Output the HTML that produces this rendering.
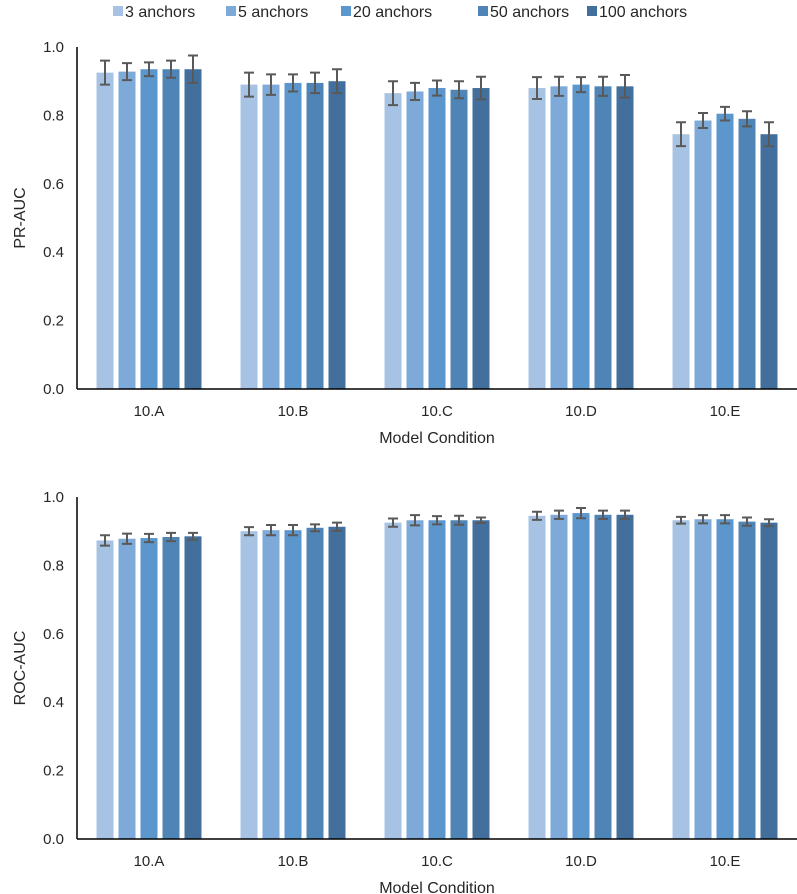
<!DOCTYPE html>
<html><head><meta charset="utf-8"><style>
body{margin:0;background:#fff;font-family:"Liberation Sans",Arial,sans-serif}
svg{display:block}
</style></head><body>
<svg id="c" width="797" height="894" xmlns="http://www.w3.org/2000/svg" font-family="Liberation Sans, Arial, sans-serif"></svg>
<script>
const categories=["10.A","10.B","10.C","10.D","10.E"];
const seriesNames=["3 anchors","5 anchors","20 anchors","50 anchors","100 anchors"];
const yTicks=[0,0.2,0.4,0.6,0.8,1.0];
const prVals=[[0.925,0.89,0.865,0.88,0.745],[0.928,0.89,0.87,0.885,0.785],[0.935,0.895,0.88,0.89,0.805],[0.935,0.895,0.875,0.885,0.79],[0.935,0.90,0.88,0.885,0.745]];
const prErr=[[0.035,0.035,0.035,0.032,0.035],[0.025,0.03,0.025,0.028,0.022],[0.02,0.025,0.022,0.022,0.02],[0.025,0.03,0.025,0.028,0.022],[0.04,0.035,0.033,0.033,0.035]];
const rocVals=[[0.873,0.90,0.925,0.945,0.932],[0.878,0.903,0.932,0.948,0.935],[0.88,0.903,0.932,0.953,0.935],[0.883,0.91,0.932,0.948,0.928],[0.885,0.913,0.932,0.948,0.925]];
const rocErr=[[0.015,0.012,0.012,0.012,0.01],[0.015,0.015,0.015,0.012,0.012],[0.012,0.015,0.012,0.015,0.012],[0.012,0.01,0.013,0.012,0.012],[0.01,0.012,0.008,0.012,0.01]];
const colors=["#a7c3e4","#7eaad9","#5b96cd","#4f84b7","#426f9b"];
const svg=document.getElementById('c');
const NS="http://www.w3.org/2000/svg";
function mk(t,a,p){const e=document.createElementNS(NS,t);for(const k in a)e.setAttribute(k,a[k]);(p||svg).appendChild(e);return e;}
// legend
const legX=[113,226,341,478,587];
seriesNames.forEach((n,i)=>{
  const g=mk('g',{});
  
  
  mk('rect',{x:legX[i],y:6,width:10,height:10,fill:colors[i]},g);
  const t=mk('text',{x:legX[i]+12,y:17,'font-size':16,fill:'#262626'},g);t.textContent=n;
});
function chart(name,ylabel,vals,errs,y0,y1,ylabY){
  const g=mk('g',{});
  
  
  const x0=77,xEnd=797,cw=(xEnd-x0)/5;
  const Y=v=>y0-(y0-y1)*v;
  yTicks.forEach(t=>{
    const tx=mk('text',{x:64,y:Y(t)+5,'text-anchor':'end','font-size':15,fill:'#262626'},g);
    
    tx.textContent=t.toFixed(1);
  });
  categories.forEach((c,ci)=>{
    const cx=x0+cw*(ci+0.5);
    const start=cx-52.5;
    vals.forEach((sv,si)=>{
      const v=sv[ci],e=errs[si][ci];
      const bx=start+si*22;
      const r=mk('rect',{x:bx,y:Y(v),width:17,height:y0-Y(v),fill:colors[si]},g);
      
      
      const mx=bx+8.5;
      const eb=mk('path',{d:`M${mx},${Y(v+e)}V${Y(v-e)}M${mx-5},${Y(v+e)}H${mx+5}M${mx-5},${Y(v-e)}H${mx+5}`,stroke:'#595959','stroke-width':2,fill:'none'},g);
      
      
    });
    const lt=mk('text',{x:cx,y:y0+27,'text-anchor':'middle','font-size':15,fill:'#262626'},g);
    
    lt.textContent=c;
  });
  mk('line',{x1:x0,y1:y1,x2:x0,y2:y0,stroke:'#000','stroke-width':1.5},g);
  mk('line',{x1:x0,y1:y0,x2:xEnd,y2:y0,stroke:'#000','stroke-width':1.5},g);
  const xt=mk('text',{x:437,y:y0+54,'text-anchor':'middle','font-size':16,fill:'#262626'},g);
  
  xt.textContent='Model Condition';
  const yt=mk('text',{x:0,y:0,'text-anchor':'middle','font-size':16,fill:'#262626',transform:`translate(25,${ylabY}) rotate(-90)`},g);
  
  yt.textContent=ylabel;
}
chart('pr-auc-chart','PR-AUC',prVals,prErr,389,47,218);
chart('roc-auc-chart','ROC-AUC',rocVals,rocErr,839,497,668);
</script>
</body></html>
